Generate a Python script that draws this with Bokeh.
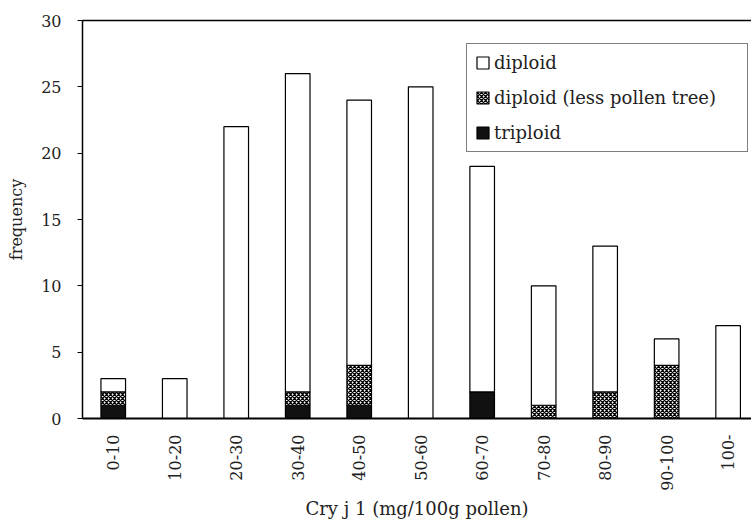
import math
from bokeh.plotting import figure
from bokeh.models import (ColumnDataSource, Legend, LegendItem, LinearAxis,
                          FixedTicker, Range1d)
from bokeh.embed import file_html
from bokeh.resources import INLINE

categories = ["0-10", "10-20", "20-30", "30-40", "40-50", "50-60",
              "60-70", "70-80", "80-90", "90-100", "100-"]
triploid = [1, 0, 0, 1, 1, 0, 2, 0, 0, 0, 0]
less_pollen = [1, 0, 0, 1, 3, 0, 0, 1, 2, 4, 0]
diploid = [1, 3, 22, 24, 20, 25, 17, 9, 11, 2, 7]
y_ticks = [0, 5, 10, 15, 20, 25, 30]

FONT = "DejaVu Serif"
TXT = "#222222"

xpos = [i + 0.5 for i in range(len(categories))]
source = ColumnDataSource(dict(x=xpos, triploid=triploid,
                               less=less_pollen, diploid=diploid))

p = figure(width=751, height=521, output_backend="svg", toolbar_location=None,
           x_range=Range1d(0, 10.88), y_range=Range1d(0, 30),
           min_border_left=82, min_border_top=20, min_border_bottom=103,
           min_border_right=0)
p.outline_line_color = None
p.xgrid.visible = False
p.ygrid.visible = False
p.background_fill_color = "white"

renderers = p.vbar_stack(["triploid", "less", "diploid"], x="x", width=0.4,
                         source=source,
                         fill_color=["#111111", "white", "white"],
                         line_color="black", line_width=1.2,
                         hatch_pattern=[" ", "diagonal_cross", " "],
                         hatch_color="black", hatch_scale=4, hatch_weight=1.3)

# y axis
ya = p.yaxis[0]
ya.ticker = FixedTicker(ticks=y_ticks)
ya.minor_tick_line_color = None
ya.major_tick_in = 0
ya.major_tick_out = 5
ya.major_label_standoff = 16
ya.axis_line_width = 1.5
ya.major_label_text_font = FONT
ya.major_label_text_font_size = "16px"
ya.major_label_text_color = TXT
ya.axis_label = "frequency"
ya.axis_label_text_font = FONT
ya.axis_label_text_font_size = "16px"
ya.axis_label_text_font_style = "normal"
ya.axis_label_text_color = TXT
ya.axis_label_standoff = 12

# x axis
xa = p.xaxis[0]
xa.ticker = FixedTicker(ticks=xpos)
xa.major_label_overrides = {x: c for x, c in zip(xpos, categories)}
xa.major_label_orientation = math.pi / 2
xa.minor_tick_line_color = None
xa.major_tick_line_color = None
xa.major_tick_in = 0
xa.major_tick_out = 0
xa.major_label_standoff = 16
xa.axis_line_width = 2
xa.major_label_text_font = FONT
xa.major_label_text_font_size = "16px"
xa.major_label_text_color = TXT
xa.axis_label = "Cry j 1 (mg/100g pollen)"
xa.axis_label_text_font = FONT
xa.axis_label_text_font_size = "18px"
xa.axis_label_text_font_style = "normal"
xa.axis_label_text_color = TXT
xa.axis_label_standoff = 4

# top frame line
top = LinearAxis(ticker=FixedTicker(ticks=[]), major_label_text_font_size="0px",
                 major_tick_out=0, major_tick_in=0, minor_tick_line_color=None,
                 axis_line_width=1.5)
p.add_layout(top, "above")

legend = Legend(items=[LegendItem(label="diploid", renderers=[renderers[2]]),
                       LegendItem(label="diploid (less pollen tree)", renderers=[renderers[1]]),
                       LegendItem(label="triploid", renderers=[renderers[0]])],
                location=(384, 266), padding=8, spacing=14,
                glyph_width=15, glyph_height=15, label_standoff=4,
                label_height=21, label_width=245,
                label_text_font=FONT, label_text_font_size="18px",
                label_text_color=TXT, border_line_color="black",
                border_line_width=1, background_fill_alpha=1)
p.add_layout(legend)

open("out.html", "w").write(file_html(p, INLINE))
